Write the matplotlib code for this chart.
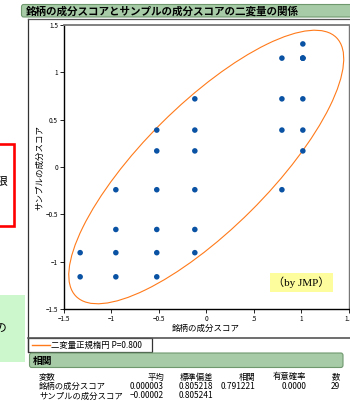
import numpy as np
import matplotlib.pyplot as plt
from matplotlib.patches import Ellipse, Rectangle, FancyBboxPatch
from matplotlib.lines import Line2D

plt.rcParams['font.family'] = ['Noto Sans CJK JP', 'DejaVu Sans']

# data (brand score vs sample score)
brand_score = [-1.325, -1.325,
               -0.95, -0.95, -0.95, -0.95,
               -0.52, -0.52, -0.52, -0.52, -0.52, -0.52,
               -0.12, -0.12, -0.12, -0.12, -0.12, -0.12,
               0.795, 0.795, 0.795, 0.795,
               1.015, 1.015, 1.015, 1.015, 1.015, 1.015, 1.015]
sample_score = [-0.905, -1.16,
                -0.24, -0.66, -0.905, -1.16,
                0.39, 0.17, -0.24, -0.66, -0.905, -1.16,
                0.72, 0.39, 0.17, -0.24, -0.66, -0.905,
                1.15, 0.72, 0.39, -0.24,
                1.30, 1.15, 0.72, 0.39, 0.17, 1.15, 1.15]

x_ticks = [-1.5, -1, -0.5, 0, 0.5, 1, 1.5]
x_ticklabels = ['−1.5', '−1', '−0.5', '0', '.5', '1', '1.5']
y_ticks = [-1.5, -1, -0.5, 0, 0.5, 1, 1.5]
y_ticklabels = ['−1.5', '−1', '−0.5', '0', '0.5', '1', '1.5']

# correlation table
col_headers = ['変数', '平均', '標準偏差', '相関', '有意確率', '数']
row1 = ['銘柄の成分スコア', '0.000003', '0.805218', '0.791221', '0.0000', '29']
row2 = ['サンプルの成分スコア', '−0.00002', '0.805241', '', '', '']
mean_x, mean_y = 0.000003, -0.00002
sd_x, sd_y = 0.805218, 0.805241
corr = 0.791221
p_level = 0.8

W, H = 350, 401
fig = plt.figure(figsize=(W / 100, H / 100), dpi=100)


def fx(px):
    return px / W


def fy(py):
    return 1 - py / H


def frect(x0, y0, x1, y1, **kw):
    r = Rectangle((fx(x0), fy(y1)), fx(x1) - fx(x0), fy(y0) - fy(y1),
                  transform=fig.transFigure, **kw)
    fig.patches.append(r)
    return r


# left cut-off boxes from the slide
frect(-5, 144, 14, 226, facecolor='none', edgecolor='#ff0000', lw=1.9)
fig.text(fx(7.5), fy(182), '限', fontsize=8.5, ha='right', va='center')
frect(0, 295, 25, 362, facecolor='#ccf7cc', edgecolor='none')
fig.text(fx(6.5), fy(329), 'の', fontsize=8.5, ha='right', va='center')

# outer frame
fig.add_artist(Line2D([fx(28), fx(28)], [fy(18.5), fy(352)], color='#333333', lw=0.9))
fig.add_artist(Line2D([fx(28), fx(352)], [fy(18.5), fy(18.5)], color='#555555', lw=0.9))
fig.add_artist(Line2D([fx(28), fx(352)], [fy(338), fy(338)], color='#555555', lw=1.2))

# title bar
tb = FancyBboxPatch((fx(21.5), fy(17)), fx(360) - fx(21.5), fy(4.5) - fy(17),
                    boxstyle='round,pad=0,rounding_size=0.006',
                    transform=fig.transFigure, facecolor='#a6cba6',
                    edgecolor='#6f986f', lw=0.8)
fig.patches.append(tb)
fig.text(fx(26), fy(11), '銘柄の成分スコアとサンプルの成分スコアの二変量の関係',
         fontsize=7.6, fontweight='bold', ha='left', va='center')

# scatter plot
ax = fig.add_axes([fx(63.5), fy(309), fx(349) - fx(63.5), fy(25) - fy(309)])
ax.scatter(brand_score, sample_score, s=16, color='#0a52a3', zorder=3,
           edgecolors='none')

cov = np.array([[sd_x ** 2, corr * sd_x * sd_y],
                [corr * sd_x * sd_y, sd_y ** 2]])
vals, vecs = np.linalg.eigh(cov)
k = np.sqrt(-2 * np.log(1 - p_level))
angle = np.degrees(np.arctan2(vecs[1, 1], vecs[0, 1]))
ell = Ellipse((mean_x, mean_y), 2 * k * np.sqrt(vals[1]), 2 * k * np.sqrt(vals[0]),
              angle=angle, facecolor='none', edgecolor='#ff7a1a', lw=0.8, zorder=2)
ax.add_patch(ell)

ax.set_xlim(-1.5, 1.5)
ax.set_ylim(-1.5, 1.5)
ax.set_xticks(x_ticks)
ax.set_xticklabels(x_ticklabels)
ax.set_yticks(y_ticks)
ax.set_yticklabels(y_ticklabels)
ax.tick_params(labelsize=4.6, length=3, width=0.6, pad=1, direction='out')
for s in ['left', 'bottom']:
    ax.spines[s].set_color('black')
    ax.spines[s].set_linewidth(1.0)
ax.spines['top'].set_color('#777777')
ax.spines['top'].set_linewidth(1.3)
ax.spines['right'].set_color('#777777')
ax.spines['right'].set_linewidth(1.0)
ax.set_xlabel('銘柄の成分スコア', fontsize=6.1, labelpad=1)
ax.set_ylabel('サンプルの成分スコア', fontsize=6.1, labelpad=1)

# by JMP note
frect(270, 273, 333, 292, facecolor='#fdfd9e', edgecolor='none', zorder=5)
fig.text(fx(301.5), fy(282.5), '（by JMP）', fontsize=8,
         family=['Liberation Serif', 'Noto Sans CJK JP'],
         ha='center', va='center', zorder=6)

# legend box
frect(28, 338, 152, 352, facecolor='white', edgecolor='#333333', lw=0.9)
fig.add_artist(Line2D([fx(32), fx(50)], [fy(345), fy(345)], color='#ff7a1a', lw=1.0))
fig.text(fx(51), fy(345), '二変量正規楕円 P=0.800', fontsize=6, ha='left', va='center')

# correlation header bar
cb = FancyBboxPatch((fx(29.5), fy(367.5)), fx(343) - fx(29.5), fy(353) - fy(367.5),
                    boxstyle='round,pad=0,rounding_size=0.006',
                    transform=fig.transFigure, facecolor='#a6cba6',
                    edgecolor='#6f986f', lw=0.8)
fig.patches.append(cb)
fig.text(fx(33), fy(360.5), '相関', fontsize=7, fontweight='bold', ha='left', va='center')

# table
col_right = [None, 164, 213, 255, 306, 340]
for yy, row in zip([377, 386.5, 396], [col_headers, row1, row2]):
    fig.text(fx(39), fy(yy), row[0], fontsize=6, ha='left', va='center')
    for cx, val in zip(col_right[1:], row[1:]):
        fig.text(fx(cx), fy(yy), val, fontsize=6, ha='right', va='center')

fig.savefig('out.png', dpi=100)
